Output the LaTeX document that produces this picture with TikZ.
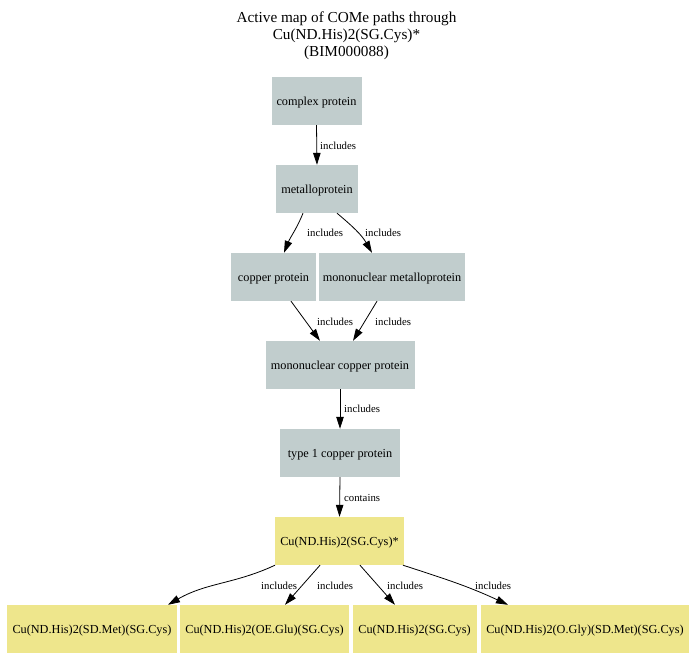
\documentclass[tikz,border=0pt]{standalone}
\usepackage{fontspec}
\setmainfont{Liberation Serif}
\usetikzlibrary{arrows.meta}
\definecolor{boxgrey}{HTML}{C1CDCD}
\definecolor{boxgold}{HTML}{EEE68C}
\tikzset{
  box/.style={rectangle, inner sep=0pt, minimum height=48bp,
    text height=10bp, text depth=1bp,
    font=\fontsize{12.3}{14}\selectfont},
  greybox/.style={box, fill=boxgrey},
  goldbox/.style={box, fill=boxgold},
  lbl/.style={anchor=west, inner sep=0pt, font=\fontsize{10.8}{12}\selectfont},
  link/.style={draw=black, line width=0.8bp, -{Triangle[length=12bp,width=7.5bp]}},
}
\begin{document}
\begin{tikzpicture}[x=1bp, y=-1bp]
  \useasboundingbox (0,0) rectangle (694,670);

  % heading
  \node[align=center, inner sep=0pt, font=\fontsize{15.3}{17}\selectfont] (title) at (346.5,36)
    {Active map of COMe paths through\\Cu(ND.His)2(SG.Cys)*\\(BIM000088)};

  % class hierarchy
  \node[greybox, minimum width=90bp]  (cp) at (316.5,101) {complex protein};
  \node[greybox, minimum width=82bp]  (mp) at (317,189)   {metalloprotein};
  \node[greybox, minimum width=85bp]  (cu) at (273.5,277) {copper protein};
  \node[greybox, minimum width=146bp] (mm) at (392,277)   {mononuclear metalloprotein};
  \node[greybox, minimum width=149bp] (mc) at (340,365)   {mononuclear copper protein};
  \node[greybox, minimum width=120bp] (t1) at (340,453)   {type 1 copper protein};

  % site and its members
  \node[goldbox, minimum width=129bp] (st) at (339.5,541) {Cu(ND.His)2(SG.Cys)*};
  \node[goldbox, minimum width=170bp] (b1) at (92,629)    {Cu(ND.His)2(SD.Met)(SG.Cys)};
  \node[goldbox, minimum width=169bp] (b2) at (264.5,629) {Cu(ND.His)2(OE.Glu)(SG.Cys)};
  \node[goldbox, minimum width=124bp] (b3) at (414.5,629) {Cu(ND.His)2(SG.Cys)};
  \node[goldbox, minimum width=208bp] (b4) at (585,629)   {Cu(ND.His)2(O.Gly)(SD.Met)(SG.Cys)};

  % connectors
  \draw[link] (cp.south) -- (mp.north);
  \draw[link] ([xshift=-14bp]mp.south) to[out=-112, in=68] ([xshift=10.5bp]cu.north);
  \draw[link] ([xshift=20bp]mp.south) to[out=-40, in=120] ([xshift=-20bp]mm.north);
  \draw[link] ([xshift=17.5bp]cu.south) -- ([xshift=-20bp]mc.north);
  \draw[link] ([xshift=-15bp]mm.south) -- ([xshift=13bp]mc.north);
  \draw[link] (mc.south) -- (t1.north);
  \draw[link] (t1.south) -- (st.north);
  \draw[link] ([xshift=-64.5bp]st.south) to[out=-155, in=30] ([xshift=76bp]b1.north);
  \draw[link] ([xshift=-19.5bp]st.south) -- ([xshift=20.5bp]b2.north);
  \draw[link] ([xshift=20.5bp]st.south) -- ([xshift=-19.5bp]b3.north);
  \draw[link] ([xshift=63.5bp]st.south) to[out=-18, in=155] ([xshift=-77bp]b4.north);

  % connector labels
  \node[lbl] (l1)  at (320,146) {includes};
  \node[lbl] (l2)  at (307,233) {includes};
  \node[lbl] (l3)  at (365,233) {includes};
  \node[lbl] (l4)  at (317,322) {includes};
  \node[lbl] (l5)  at (375,322) {includes};
  \node[lbl] (l6)  at (344,409) {includes};
  \node[lbl] (l7)  at (344,498) {contains};
  \node[lbl] (l8)  at (261,586) {includes};
  \node[lbl] (l9)  at (317,586) {includes};
  \node[lbl] (l10) at (387,586) {includes};
  \node[lbl] (l11) at (475,586) {includes};
\end{tikzpicture}
\end{document}
